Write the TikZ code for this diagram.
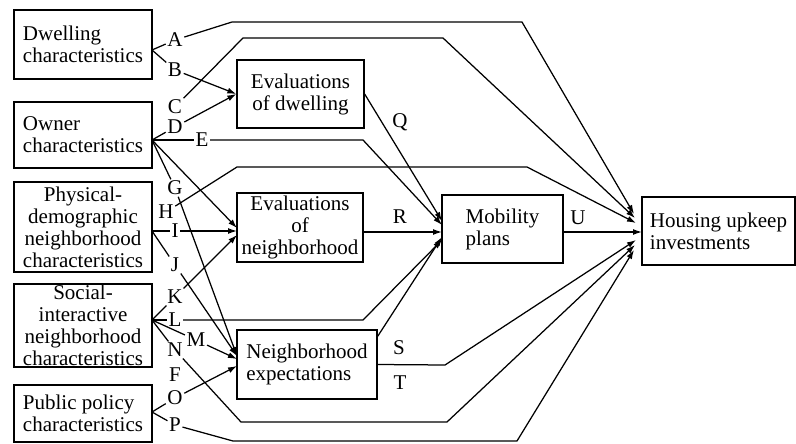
\documentclass[tikz,border=0pt]{standalone}
\usepackage{fontspec}
\setmainfont{Liberation Serif}
\usetikzlibrary{arrows.meta}
\tikzstyle{box}=[draw,line width=1.3pt,inner sep=0pt,font=\fontsize{21}{22}\selectfont]
\tikzstyle{tag}=[inner sep=1.5pt,font=\fontsize{21}{22}\selectfont]
\tikzstyle{edge}=[draw,line width=1.25pt,-]

\begin{document}
\begin{tikzpicture}[x=1pt,y=-1pt]
  \tikzset{arrow/.style={edge,->,>={Latex[length=9pt,width=6pt]}}}
  \useasboundingbox (0,0) rectangle (796,444);
  % boxes
  \node[box,minimum width=138pt,minimum height=69pt,align=left] (dw) at (83,44.5) {Dwelling\\characteristics};
  \node[box,minimum width=138pt,minimum height=66pt,align=left] (ow) at (83,135) {Owner\\characteristics};
  \node[box,minimum width=138pt,minimum height=90pt,align=center] (ph) at (83,227) {Physical-\\demographic\\neighborhood\\characteristics};
  \node[box,minimum width=138pt,minimum height=83pt,align=center] (so) at (83,325.5) {Social-\\interactive\\neighborhood\\characteristics};
  \node[box,minimum width=138pt,minimum height=57pt,align=left] (pu) at (83,413.5) {Public policy\\characteristics};
  \node[box,minimum width=127pt,minimum height=68pt,align=center] (ed) at (300.5,94) {Evaluations\\of dwelling};
  \node[box,minimum width=126pt,minimum height=69pt,align=center] (en) at (300,227.5) {Evaluations\\of\\neighborhood};
  \node[box,minimum width=140pt,minimum height=69pt,align=left] (ne) at (307,364.5) {Neighborhood\\expectations};
  \node[box,minimum width=121pt,minimum height=68pt,align=left] (mp) at (502.5,229) {Mobility\\plans};
  \node[box,minimum width=153pt,minimum height=68pt,align=left] (hu) at (718.5,231) {Housing upkeep\\investments};
  % path letters
  \node[tag] (lA) at (175,40) {A};
  \node[tag] (lB) at (175,70) {B};
  \node[tag] (lC) at (175,107) {C};
  \node[tag] (lD) at (175,127) {D};
  \node[tag] (lE) at (202,140) {E};
  \node[tag] (lG) at (175,188) {G};
  \node[tag] (lH) at (166,212) {H};
  \node[tag] (lI) at (175,231) {I};
  \node[tag] (lJ) at (175,265) {J};
  \node[tag] (lK) at (175,297) {K};
  \node[tag] (lL) at (175,320) {L};
  \node[tag] (lM) at (196,340) {M};
  \node[tag] (lN) at (175,350) {N};
  \node[tag] (lF) at (175,375) {F};
  \node[tag] (lO) at (175,398) {O};
  \node[tag] (lP) at (175,425) {P};
  \node[tag] (lQ) at (400,122) {Q};
  \node[tag] (lR) at (400,217) {R};
  \node[tag] (lS) at (399,348) {S};
  \node[tag] (lT) at (400,383) {T};
  \node[tag] (lU) at (578,218) {U};
  % where lines leave and arrive
  \coordinate (dwp) at (152,50);
  \coordinate (owp) at (152,140);
  \coordinate (php) at (152,231);
  \coordinate (sop) at (152,320);
  \coordinate (pup) at (152,412);
  \coordinate (enO) at (237,228);
  \coordinate (enI) at (237,231);
  \coordinate (enK) at (237,235);
  \coordinate (neG) at (237,356);
  \coordinate (neM) at (237,359);
  \coordinate (neO) at (237,366);
  \coordinate (mpQ) at (442,221);
  \coordinate (mpE) at (442,225);
  \coordinate (mpR) at (442,232);
  \coordinate (mpX) at (442,237);
  \coordinate (mpL) at (442,240);
  \coordinate (huA) at (634,214);
  \coordinate (huC) at (635,218);
  \coordinate (huH) at (636,223);
  \coordinate (huU) at (642,232);
  \coordinate (huS) at (636,240);
  \coordinate (huN) at (635,245);
  \coordinate (huP) at (634,250);
  % dwelling
  \draw[edge] (dwp) -- (lA);
  \draw[arrow] (lA) -- (232,22) -- (522,22) -- (huA);
  \draw[edge] (dwp) -- (lB);
  \draw[arrow] (lB) -- (ed.west);
  % owner
  \draw[arrow] (lC) -- (243,38) -- (443,38) -- (huC);
  \draw[edge] (owp) -- (lD);
  \draw[arrow] (lD) -- (ed.west);
  \draw[edge] (owp) -- (lE);
  \draw[arrow] (lE) -- (363,140) -- (mpE);
  \draw[arrow] (owp) -- (enO);
  \draw[edge] (owp) -- (lG);
  \draw[arrow] (lG) -- (neG);
  % physical-demographic
  \draw[arrow] (lH) -- (237,167) -- (527,167) -- (huH);
  \draw[edge] (php) -- (lI);
  \draw[arrow] (lI) -- (enI);
  \draw[edge] (php) -- (lJ);
  \draw[arrow] (lJ) -- (neG);
  % social-interactive
  \draw[edge] (sop) -- (lK);
  \draw[arrow] (lK) -- (enK);
  \draw[edge] (sop) -- (lL);
  \draw[arrow] (lL) -- (363,320) -- (mpL);
  \draw[edge] (sop) -- (lM);
  \draw[arrow] (lM) -- (neM);
  \draw[edge] (sop) -- (lN);
  \draw[arrow] (lN) -- (241,422) -- (447,422) -- (huN);
  % public policy
  \draw[edge] (pup) -- (lO);
  \draw[arrow] (lO) -- (neO);
  \draw[edge] (pup) -- (lP);
  \draw[arrow] (lP) -- (233,441) -- (517,441) -- (huP);
  % endogenous paths
  \draw[arrow] (ed.east) -- (mpQ);
  \draw[arrow] (en.east |- mpR) -- (mpR);
  \draw[arrow] (ne.north east) ++(0,7) -- (mpX);
  \draw[arrow] (ne.east) -- (445,365) -- (huS);
  \draw[arrow] (mp.east |- huU) -- (huU);
\end{tikzpicture}
\end{document}
